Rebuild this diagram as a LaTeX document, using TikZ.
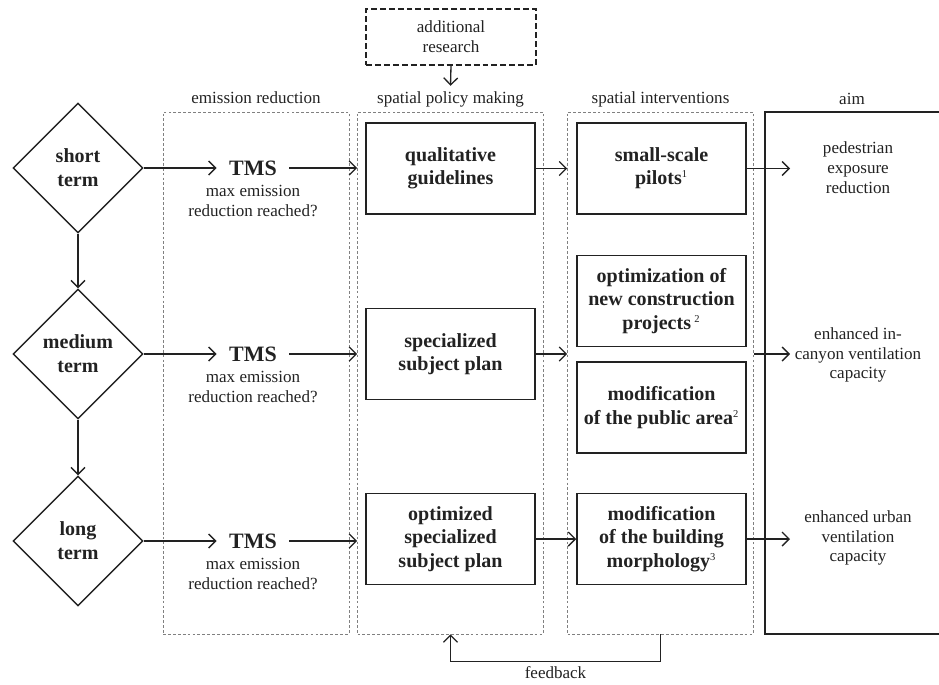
\documentclass[tikz,border=0pt]{standalone}
\usepackage{fontspec}
\setmainfont{Liberation Serif}
\usetikzlibrary{shapes,arrows,arrows.meta,positioning}
\definecolor{ink}{HTML}{222222}
\newcommand{\mNote}[1]{\textsuperscript{\mdseries\fontsize{6}{6}\selectfont #1}}
\newcommand{\tms}[2]{\node[tmsbox] (#1) at (253,#2) {TMS};
    \node[ask,below=0pt of #1] {max emission\\reduction reached?}}

\begin{document}
\begin{tikzpicture}[x=0.02cm,y=-0.02cm,
    every node/.style={text=ink},
    term/.style={diamond,draw=ink,line width=0.8pt,minimum width=2.6cm,minimum height=2.6cm,inner sep=0pt,align=center,font=\fontsize{11.4}{13.6}\selectfont\bfseries},
    stage/.style={draw=ink,line width=0.9pt,minimum width=3.38cm,minimum height=1.82cm,inner sep=2pt,align=center,font=\fontsize{11.4}{13.2}\selectfont\bfseries},
    column/.style={draw=gray,line width=0.4pt,dash pattern=on 1.6pt off 1.2pt,minimum width=3.72cm,minimum height=10.44cm,inner sep=0pt},
    head/.style={anchor=base,font=\fontsize{9.7}{11.3}\selectfont},
    ask/.style={align=center,font=\fontsize{9.7}{11.3}\selectfont},
    tmsbox/.style={inner ysep=2pt,inner xsep=7pt,font=\fontsize{12.5}{14}\selectfont\bfseries},
    flow/.style={-{Straight Barb[length=4pt,width=8pt]},draw=ink,line width=0.75pt}]
    \useasboundingbox (0,0) rectangle (939,684);
    % columns
    \node[column] (col1) at (256,373) {};
    \node[column] (col2) at (450.5,373) {};
    \node[column] (col3) at (660.5,373) {};
    \draw[ink,line width=0.7pt] (939,112) -- (765,112) -- (765,634) -- (939,634);
    \node[head] at ([yshift=4.5pt]col1.north) {emission reduction};
    \node[head] (polhead) at ([yshift=4.5pt]col2.north) {spatial policy making};
    \node[head] at ([yshift=4.5pt]col3.north) {spatial interventions};
    \node[head] at (852,104) {aim};
    \node[draw=ink,line width=0.9pt,dash pattern=on 3.4pt off 1.7pt,minimum width=3.4cm,minimum height=1.12cm,align=center,font=\fontsize{9.7}{11.3}\selectfont] (research) at (451,37) {additional\\research};
    \draw[flow] (research.south) -- (polhead.north);
    % terms
    \node[term] (short) at (78,168) {short\\term};
    \node[term] (medium) at (78,354) {medium\\term};
    \node[term] (long) at (78,541) {long\\term};
    \draw[flow] (short.south) -- (medium.north);
    \draw[flow] (medium.south) -- (long.north);
    \tms{tms1}{168};
    \tms{tms2}{354};
    \tms{tms3}{541};
    % policy and interventions
    \node[stage] (qual) at (450.5,168.5) {qualitative\\guidelines};
    \node[stage] (spec) at (450.5,354) {specialized\\subject plan};
    \node[stage] (optspec) at (450.5,539) {optimized\\specialized\\subject plan};
    \node[stage] (pilots) at (661.5,168.5) {small-scale\\pilots\mNote{1}};
    \node[stage] (optcon) at (661.5,301) {optimization of\\new construction\\projects\,\mNote{2}};
    \node[stage] (pubarea) at (661.5,407.5) {modification\\of the public area\mNote{2}};
    \node[stage] (morph) at (661.5,539) {modification\\of the building\\morphology\mNote{3}};
    % aims
    \node[ask] (ped) at (858,168) {pedestrian\\exposure\\reduction};
    \node[ask] (canyon) at (858,355) {enhanced in-\\canyon ventilation\\capacity};
    \node[ask] (urban) at (858,538) {enhanced urban\\ventilation\\capacity};
    \coordinate (a1) at (790,168.5);
    \coordinate (a2) at (790,354);
    \coordinate (a3) at (790,539);
    % rows
    \draw[flow] (short.east) -- (short.east -| tms1.west);
    \draw[flow] (medium.east) -- (medium.east -| tms2.west);
    \draw[flow] (long.east) -- (long.east -| tms3.west);
    \draw[flow] (tms1.east) -- (tms1.east -| col2.west);
    \draw[flow] (tms2.east) -- (tms2.east -| col2.west);
    \draw[flow] (tms3.east) -- (tms3.east -| col2.west);
    \draw[flow] (qual.east) -- (qual.east -| col3.west);
    \draw[flow] (spec.east) -- (spec.east -| col3.west);
    \draw[flow] (optspec.east) -- (optspec.east -| morph.west);
    \draw[flow] (pilots.east) -- (a1);
    \draw[flow] (col3.east |- a2) -- (a2);
    \draw[flow] (morph.east) -- (a3);
    % feedback
    \draw[flow] (col3.south) -- ++(0,27) -| (col2.south) node[pos=0.25,below=-1pt,font=\fontsize{9.7}{11.3}\selectfont] {feedback};
\end{tikzpicture}
\end{document}
